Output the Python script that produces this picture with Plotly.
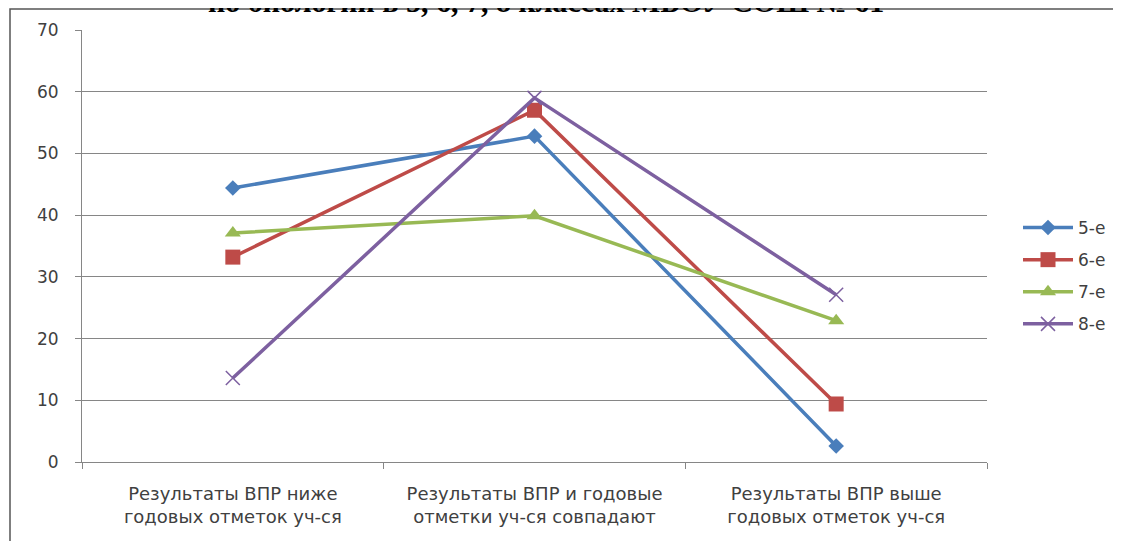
import plotly.graph_objects as go

categories = ["Результаты ВПР ниже<br>годовых отметок уч-ся",
              "Результаты ВПР и годовые<br>отметки уч-ся совпадают",
              "Результаты ВПР выше<br>годовых отметок уч-ся"]
series_names = ["5-е", "6-е", "7-е", "8-е"]
v5 = [44.4, 52.8, 2.6]
v6 = [33.2, 57.0, 9.4]
v7 = [37.1, 39.9, 22.9]
v8 = [13.6, 59.0, 27.1]
title_text = "по биологии в 5, 6, 7, 8 классах МБОУ СОШ № 61"

colors = ["#4A7EBB", "#BE4B48", "#98B954", "#7D60A0"]
symbols = ["diamond", "square", "triangle-up", "x-thin"]
sizes = [12, 15, 14, 14]

fig = go.Figure()
for i, (name, vals) in enumerate(zip(series_names, [v5, v6, v7, v8])):
    marker = dict(symbol=symbols[i], size=sizes[i], color=colors[i])
    if symbols[i] == "x-thin":
        marker["line"] = dict(color=colors[i], width=1.5)
    fig.add_trace(go.Scatter(
        x=categories, y=vals, name=name, mode="lines+markers",
        line=dict(color=colors[i], width=3.5),
        marker=marker, legendgroup=name,
    ))

# page has an 8px body margin; coordinates below are figure coordinates
L, R, T, B = 74, 142, 22, 87
W, H = 1121, 541
pw, ph = W - L - R, H - T - B

def px_x(px):
    return (px - L) / pw

def px_y(py):
    return (H - B - py) / ph

FONT = "DejaVu Sans"
fig.update_layout(
    width=W, height=H,
    margin=dict(l=L, r=R, t=T, b=B, pad=0, autoexpand=False),
    paper_bgcolor="white", plot_bgcolor="white",
    font=dict(family=FONT, size=17, color="#404040"),
    showlegend=True,
    legend=dict(x=px_x(1010), y=px_y(268), xanchor="left", yanchor="middle",
                font=dict(size=17, color="#404040"), itemwidth=50,
                tracegroupgap=7, bgcolor="rgba(0,0,0,0)"),
    xaxis=dict(range=[-0.5, 2.5], showgrid=False, showline=True, linecolor="#868686", linewidth=1,
               ticks="outside", ticklen=6, tickcolor="#868686", tickson="boundaries",
               ticklabelstandoff=15,
               tickfont=dict(size=18, color="#404040"), fixedrange=True, automargin=False),
    yaxis=dict(range=[0, 70], dtick=10, showgrid=True, gridcolor="#868686", gridwidth=1,
               showline=True, linecolor="#868686", linewidth=1, ticks="outside",
               ticklen=6, tickcolor="#868686", zeroline=False, ticklabelstandoff=13,
               tickfont=dict(size=17, color="#404040"), fixedrange=True, automargin=False),
    shapes=[dict(type="rect", xref="paper", yref="paper",
                 x0=px_x(2), x1=px_x(1110), y0=px_y(560), y1=px_y(1),
                 line=dict(color="#555555", width=1.5), fillcolor="rgba(0,0,0,0)", layer="below")],
    annotations=[dict(text="<b>" + title_text + "</b>", xref="paper", yref="paper",
                      x=px_x(538), y=px_y(12), xanchor="center", yanchor="bottom",
                      showarrow=False,
                      font=dict(family="Liberation Serif", size=30, color="black"))],
)

fig.write_html("out.html")
